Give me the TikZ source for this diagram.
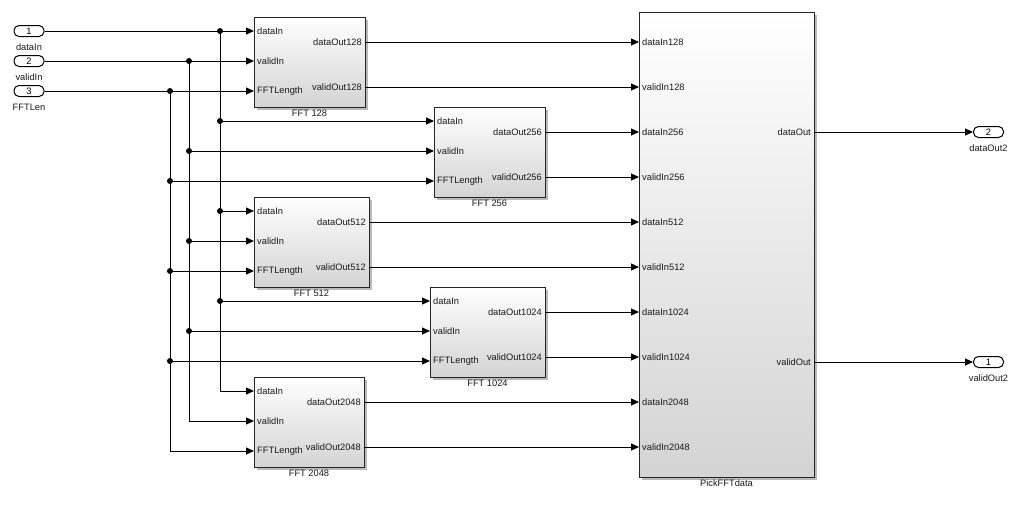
\documentclass[tikz,border=0pt]{standalone}
\usepackage{fontspec}
\setmainfont{Liberation Sans}
\usetikzlibrary{arrows.meta,shadows}
\newcommand\fftblk[5]{%
  \node[blk, minimum width=#4pt, minimum height=90pt] (#1) at (#2,#3) {};
  \coordinate (#1-i1) at (#2,#3+14);
  \coordinate (#1-i2) at (#2,#3+44);
  \coordinate (#1-i3) at (#2,#3+74);
  \coordinate (#1-o1) at (#2+#4,#3+25);
  \coordinate (#1-o2) at (#2+#4,#3+70);
  \node[lbl, anchor=west] (#1-l1) at (#2+2,#3+14) {dataIn};
  \node[lbl, anchor=west] (#1-l2) at (#2+2,#3+44) {validIn};
  \node[lbl, anchor=west] (#1-l3) at (#2+2,#3+74) {FFTLength};
  \node[lbl, anchor=east] (#1-l4) at (#2+#4-2,#3+25) {dataOut#5};
  \node[lbl, anchor=east] (#1-l5) at (#2+#4-2,#3+70) {validOut#5};
  \node[lbl, anchor=north] (#1-cap) at (#2+#4/2,#3+92) {FFT #5};
}
\begin{document}
\begin{tikzpicture}[x=1pt,y=-1pt,
  lbl/.style={font=\fontsize{9.3}{11}\selectfont, inner sep=1pt, text=black!90},
  blk/.style={draw=black!85, line width=1pt, top color=white, bottom color=black!17,
    anchor=north west, inner sep=0pt,
    drop shadow={shadow xshift=2.5pt, shadow yshift=-2.5pt, fill=black!45, opacity=0.6}},
  port/.style={draw=black, line width=1pt, fill=white, rounded corners=5pt,
    minimum width=30pt, minimum height=11pt, inner sep=0pt,
    font=\fontsize{9.3}{11}\selectfont},
  wire/.style={line width=1pt, -{Triangle[length=8pt,width=7pt]}},
  jdot/.style={circle, fill=black, inner sep=0pt, minimum size=6pt}]
\useasboundingbox (0,0) rectangle (1022,504);

% inports
\node[port] (in1) at (29,31) {1};
\node[port] (in2) at (29,61) {2};
\node[port] (in3) at (29,91) {3};
\node[lbl] (in1-l) at (29,47) {dataIn};
\node[lbl] (in2-l) at (29,77) {validIn};
\node[lbl] (in3-l) at (29,107) {FFTLen};

% FFT blocks
\fftblk{f128}{254}{17}{111}{128}
\fftblk{f256}{434}{107}{111}{256}
\fftblk{f512}{254}{197}{115}{512}
\fftblk{f1024}{430}{287}{115}{1024}
\fftblk{f2048}{254}{377}{110}{2048}

% PickFFTdata
\node[blk, minimum width=175pt, minimum height=465pt] (pick) at (639,12) {};
\node[lbl, anchor=north] (pick-cap) at (726.5,479) {PickFFTdata};
\foreach \n/\t [count=\k from 0] in {1/dataIn128,2/validIn128,3/dataIn256,4/validIn256,5/dataIn512,6/validIn512,7/dataIn1024,8/validIn1024,9/dataIn2048,10/validIn2048}{
  \coordinate (pick-i\n) at (639,42+45*\k);
  \node[lbl, anchor=west] (pick-l\n) at (641,42+45*\k) {\t};
}
\coordinate (pick-o1) at (814,132);
\coordinate (pick-o2) at (814,362);
\node[lbl, anchor=east] (pick-lo1) at (812,132) {dataOut};
\node[lbl, anchor=east] (pick-lo2) at (812,362) {validOut};

% outports
\node[port] (out2) at (988.5,132) {2};
\node[port] (out1) at (988.5,362) {1};
\node[lbl] (out2-l) at (988.5,148) {dataOut2};
\node[lbl] (out1-l) at (988.5,378) {validOut2};

% junctions
\coordinate (jd0) at (220,31);
\coordinate (jd1) at (220,121);
\coordinate (jd2) at (220,211);
\coordinate (jd3) at (220,301);
\coordinate (jv0) at (189,61);
\coordinate (jv1) at (189,151);
\coordinate (jv2) at (189,241);
\coordinate (jv3) at (189,331);
\coordinate (jf0) at (170,91);
\coordinate (jf1) at (170,181);
\coordinate (jf2) at (170,271);
\coordinate (jf3) at (170,361);

% input wiring
\draw[wire] (in1) -- (f128-i1);
\draw[wire] (in2) -- (f128-i2);
\draw[wire] (in3) -- (f128-i3);
\draw[wire] (jd0) |- (f2048-i1);
\draw[wire] (jv0) |- (f2048-i2);
\draw[wire] (jf0) |- (f2048-i3);
\draw[wire] (jd1) -- (f256-i1);
\draw[wire] (jv1) -- (f256-i2);
\draw[wire] (jf1) -- (f256-i3);
\draw[wire] (jd2) -- (f512-i1);
\draw[wire] (jv2) -- (f512-i2);
\draw[wire] (jf2) -- (f512-i3);
\draw[wire] (jd3) -- (f1024-i1);
\draw[wire] (jv3) -- (f1024-i2);
\draw[wire] (jf3) -- (f1024-i3);
\foreach \j in {jd0,jd1,jd2,jd3,jv0,jv1,jv2,jv3,jf0,jf1,jf2,jf3}
  \node[jdot] at (\j) {};

% outputs to PickFFTdata
\draw[wire] (f128-o1) -- (pick-i1);
\draw[wire] (f128-o2) -- (pick-i2);
\draw[wire] (f256-o1) -- (pick-i3);
\draw[wire] (f256-o2) -- (pick-i4);
\draw[wire] (f512-o1) -- (pick-i5);
\draw[wire] (f512-o2) -- (pick-i6);
\draw[wire] (f1024-o1) -- (pick-i7);
\draw[wire] (f1024-o2) -- (pick-i8);
\draw[wire] (f2048-o1) -- (pick-i9);
\draw[wire] (f2048-o2) -- (pick-i10);

\draw[wire] (pick-o1) -- (out2);
\draw[wire] (pick-o2) -- (out1);
\end{tikzpicture}
\end{document}
